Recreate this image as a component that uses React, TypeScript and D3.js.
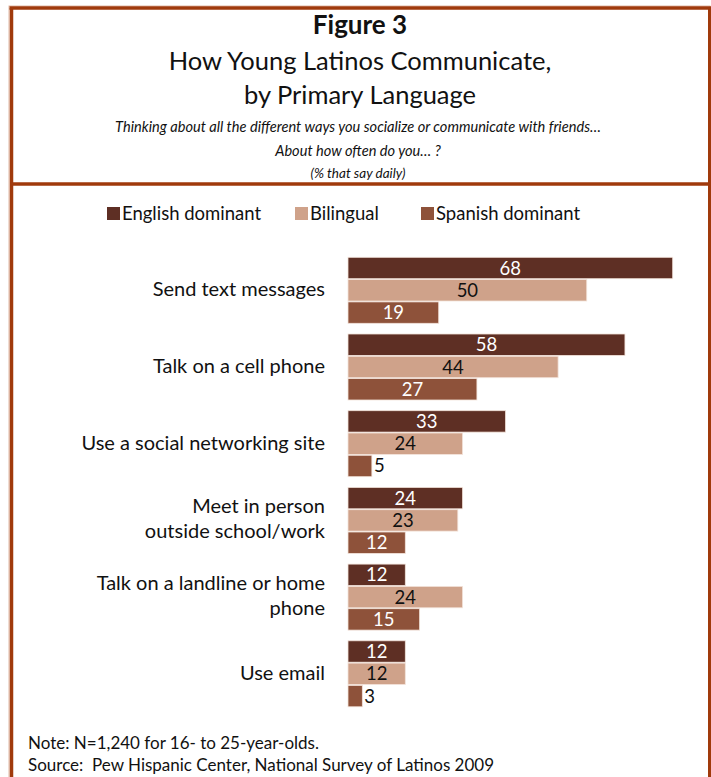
import React from "react";
import * as d3 from "d3";

const categories = [
  ["Send text messages"],
  ["Talk on a cell phone"],
  ["Use a social networking site"],
  ["Meet in person", "outside school/work"],
  ["Talk on a landline or home", "phone"],
  ["Use email"],
];
const seriesNames = ["English dominant", "Bilingual", "Spanish dominant"];
const englishDominant = [68, 58, 33, 24, 12, 12];
const bilingual = [50, 44, 24, 23, 24, 12];
const spanishDominant = [19, 27, 5, 12, 15, 3];
const colors = ["#5E2F24", "#CFA28A", "#8E523A"];
const labelColors = ["#ffffff", "#111111", "#ffffff"];

const W = 711;
const H = 777;
const FONT = "Lato, 'Open Sans', sans-serif";

export default function App() {
  const series = [englishDominant, bilingual, spanishDominant];
  const x = d3.scaleLinear().domain([0, 68]).range([348, 672.7]);
  const y = d3
    .scaleBand<number>()
    .domain(d3.range(categories.length))
    .range([257.3, 257.3 + 76.7 * categories.length])
    .paddingInner(0)
    .paddingOuter(0);
  const sub = d3.scaleBand<number>().domain([0, 1, 2]).range([0, 66]).paddingInner(0.04);

  const legendX = [107, 295, 421];

  return (
    <svg
      width={W}
      height={H}
      style={{ position: "absolute", left: 0, top: 0, background: "#fff" }}
      fontFamily={FONT}
    >
      {/* frame */}
      <rect x={9} y={6} width={701} height={H} fill="none" stroke="#E2B9A6" strokeWidth={1} />
      <line x1={11.5} y1={8} x2={11.5} y2={H} stroke="#A03A0C" strokeWidth={3.5} />
      <line x1={9.5} y1={8} x2={711} y2={8} stroke="#A03A0C" strokeWidth={3.5} />
      <line x1={709.5} y1={8} x2={709.5} y2={H} stroke="#A03A0C" strokeWidth={3} />
      <line x1={10} y1={184} x2={711} y2={184} stroke="#A03A0C" strokeWidth={3.5} />

      {/* titles */}
      <text x={360} y={34} textAnchor="middle" fontSize={26} fontWeight={700} fill="#111">
        Figure 3
      </text>
      <text x={360} y={70} textAnchor="middle" fontSize={25.5} fill="#111">
        How Young Latinos Communicate,
      </text>
      <text x={360} y={104} textAnchor="middle" fontSize={25.5} fill="#111">
        by Primary Language
      </text>
      <text x={358} y={132} textAnchor="middle" fontSize={14.6} fontStyle="italic" fill="#111">
        Thinking about all the different ways you socialize or communicate with friends…
      </text>
      <text x={358} y={156} textAnchor="middle" fontSize={14.6} fontStyle="italic" fill="#111">
        About how often do you… ?
      </text>
      <text x={358} y={178} textAnchor="middle" fontSize={13.5} fontStyle="italic" fill="#111">
        (% that say daily)
      </text>

      {/* legend */}
      {seriesNames.map((n, i) => (
        <g key={n}>
          <rect x={legendX[i]} y={207} width={13} height={13} fill={colors[i]} />
          <text x={legendX[i] + 15} y={220} fontSize={18.5} fill="#111">
            {n}
          </text>
        </g>
      ))}

      {/* bars */}
      {categories.map((cat, ci) => {
        const y0 = y(ci)!;
        const mid = y0 + 33;
        return (
          <g key={ci}>
            {cat.map((line, li) => (
              <text
                key={li}
                x={325}
                y={mid + 6 + (cat.length === 2 ? (li === 0 ? -13 : 12) : 0)}
                textAnchor="end"
                fontSize={20}
                fill="#111"
              >
                {line}
              </text>
            ))}
            {series.map((s, si) => {
              const v = s[ci];
              const by = y0 + sub(si)!;
              const bh = sub.bandwidth();
              const bw = x(v) - x(0);
              const inside = bw > 30;
              return (
                <g key={si}>
                  <rect
                    x={x(0)}
                    y={by}
                    width={bw}
                    height={bh}
                    fill={colors[si]}
                    stroke="#F3E3DA"
                    strokeWidth={0.8}
                  />
                  <text
                    x={inside ? x(0) + bw / 2 : x(v) + 2}
                    y={by + bh / 2 + 6.5}
                    textAnchor={inside ? "middle" : "start"}
                    fontSize={18.5}
                    fill={inside ? labelColors[si] : "#111"}
                  >
                    {v}
                  </text>
                </g>
              );
            })}
          </g>
        );
      })}

      {/* notes */}
      <text x={28} y={749} fontSize={17} fill="#111">
        Note: N=1,240 for 16- to 25-year-olds.
      </text>
      <text x={28} y={771} fontSize={17} fill="#111" style={{ whiteSpace: "pre" }}>
        {"Source:  Pew Hispanic Center, National Survey of Latinos 2009"}
      </text>
    </svg>
  );
}
